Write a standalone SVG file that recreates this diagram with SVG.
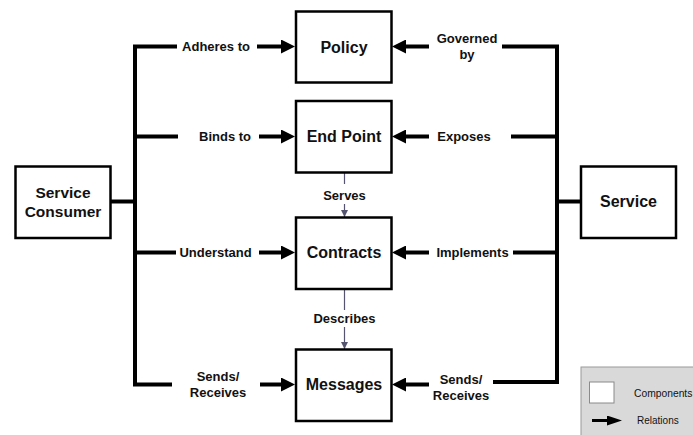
<svg xmlns="http://www.w3.org/2000/svg" width="693" height="435" viewBox="0 0 693 435">
  <style>
    .box { fill: #ffffff; stroke: #000000; stroke-width: 2.5; }
    .title { font-family: "Liberation Sans", Arial, sans-serif; font-weight: bold; font-size: 16px; fill: #111111; text-anchor: middle; }
    .label { font-family: "Liberation Sans", Arial, sans-serif; font-weight: bold; font-size: 13px; fill: #111111; text-anchor: middle; }
    .wire { fill: none; stroke: #000000; stroke-width: 4; }
    .rel { fill: none; stroke: #000000; stroke-width: 4; marker-end: url(#head); }
    .flow { fill: none; stroke: #55556f; stroke-width: 1.2; }
    .legend-text { font-family: "Liberation Sans", Arial, sans-serif; font-size: 10px; fill: #111111; }
  </style>
  <defs>
    <marker id="head" markerUnits="userSpaceOnUse" viewBox="0 0 14 14" markerWidth="14" markerHeight="14" refX="3" refY="7" orient="auto">
      <path d="M0,0 L14,7 L0,14 Z" fill="#000000"/>
    </marker>
    <marker id="thinHead" markerUnits="userSpaceOnUse" viewBox="0 0 7 7" markerWidth="7" markerHeight="7" refX="7" refY="3.5" orient="auto">
      <path d="M0,0 L7,3.5 L0,7 Z" fill="#55556f"/>
    </marker>
    <marker id="legendHead" markerUnits="userSpaceOnUse" viewBox="0 0 15 10" markerWidth="15" markerHeight="10" refX="2" refY="5" orient="auto">
      <path d="M0,0 L15,5 L0,10 Z" fill="#000000"/>
    </marker>
  </defs>

  <!-- connectors -->
  <g id="connectors">
    <!-- consumer side bus -->
    <path class="wire" d="M177,46.5 H135 V384.5 H172"/>
    <path class="wire" d="M135,136.5 H178"/>
    <path class="wire" d="M135,252.5 H176"/>
    <path class="wire" d="M111,201.5 H135"/>
    <!-- service side bus -->
    <path class="wire" d="M502,46.5 H557 V382 H493"/>
    <path class="wire" d="M511,136.5 H557"/>
    <path class="wire" d="M513,252.5 H557"/>
    <path class="wire" d="M557,201.5 H581"/>

    <!-- relations into the components -->
    <line class="rel" x1="257" y1="46.5" x2="284" y2="46.5"/>
    <line class="rel" x1="259" y1="136.5" x2="284" y2="136.5"/>
    <line class="rel" x1="259" y1="252.5" x2="284" y2="252.5"/>
    <line class="rel" x1="260" y1="384.5" x2="284" y2="384.5"/>
    <line class="rel" x1="429" y1="46.5" x2="403" y2="46.5"/>
    <line class="rel" x1="429" y1="136.5" x2="403" y2="136.5"/>
    <line class="rel" x1="429" y1="252.5" x2="403" y2="252.5"/>
    <line class="rel" x1="429" y1="384.5" x2="403" y2="384.5"/>

    <!-- Serves / Describes -->
    <line class="flow" x1="344.5" y1="173" x2="344.5" y2="184"/>
    <line class="flow" x1="344.5" y1="204" x2="344.5" y2="217" marker-end="url(#thinHead)"/>
    <line class="flow" x1="344.5" y1="290" x2="344.5" y2="310"/>
    <line class="flow" x1="344.5" y1="327" x2="344.5" y2="349" marker-end="url(#thinHead)"/>

    <text class="label" x="216" y="51">Adheres to</text>
    <text class="label" x="225" y="141">Binds to</text>
    <text class="label" x="215.5" y="257">Understand</text>
    <text class="label" x="218" y="381">Sends/</text>
    <text class="label" x="218" y="397">Receives</text>
    <text class="label" x="467" y="43">Governed</text>
    <text class="label" x="467" y="59">by</text>
    <text class="label" x="464" y="141">Exposes</text>
    <text class="label" x="472.5" y="257">Implements</text>
    <text class="label" x="461" y="384">Sends/</text>
    <text class="label" x="461" y="400">Receives</text>
    <text class="label" x="344.5" y="199.5">Serves</text>
    <text class="label" x="344.5" y="323">Describes</text>
  </g>

  <!-- components -->
  <g id="service-consumer">
    <rect class="box" x="15.5" y="166.5" width="95" height="71.5"/>
    <text class="title" x="63" y="198" style="font-size:15.5px">Service</text>
    <text class="title" x="63" y="217" style="font-size:15.5px">Consumer</text>
  </g>
  <g id="policy">
    <rect class="box" x="296" y="11.5" width="95.5" height="71"/>
    <text class="title" x="344" y="52.5">Policy</text>
  </g>
  <g id="end-point">
    <rect class="box" x="296" y="101" width="95.5" height="71.5"/>
    <text class="title" x="344" y="142">End Point</text>
  </g>
  <g id="contracts">
    <rect class="box" x="296" y="217.5" width="95.5" height="71.5"/>
    <text class="title" x="344" y="258">Contracts</text>
  </g>
  <g id="messages">
    <rect class="box" x="296" y="349.5" width="95.5" height="71.5"/>
    <text class="title" x="344" y="390">Messages</text>
  </g>
  <g id="service">
    <rect class="box" x="581" y="166.5" width="95" height="71.5"/>
    <text class="title" x="628.5" y="207">Service</text>
  </g>

  <!-- key -->
  <g id="legend">
    <rect x="581" y="367" width="130" height="80" fill="#d9d9d9" stroke="#9a9a9a" stroke-width="1"/>
    <rect x="589.5" y="382" width="24.5" height="21" fill="#ffffff" stroke="#8a8a8a" stroke-width="1"/>
    <text class="legend-text" x="634" y="397" style="font-size:10.3px">Components</text>
    <line x1="592" y1="420.5" x2="609" y2="420.5" stroke="#000000" stroke-width="3" marker-end="url(#legendHead)"/>
    <text class="legend-text" x="637" y="424">Relations</text>
  </g>
</svg>
